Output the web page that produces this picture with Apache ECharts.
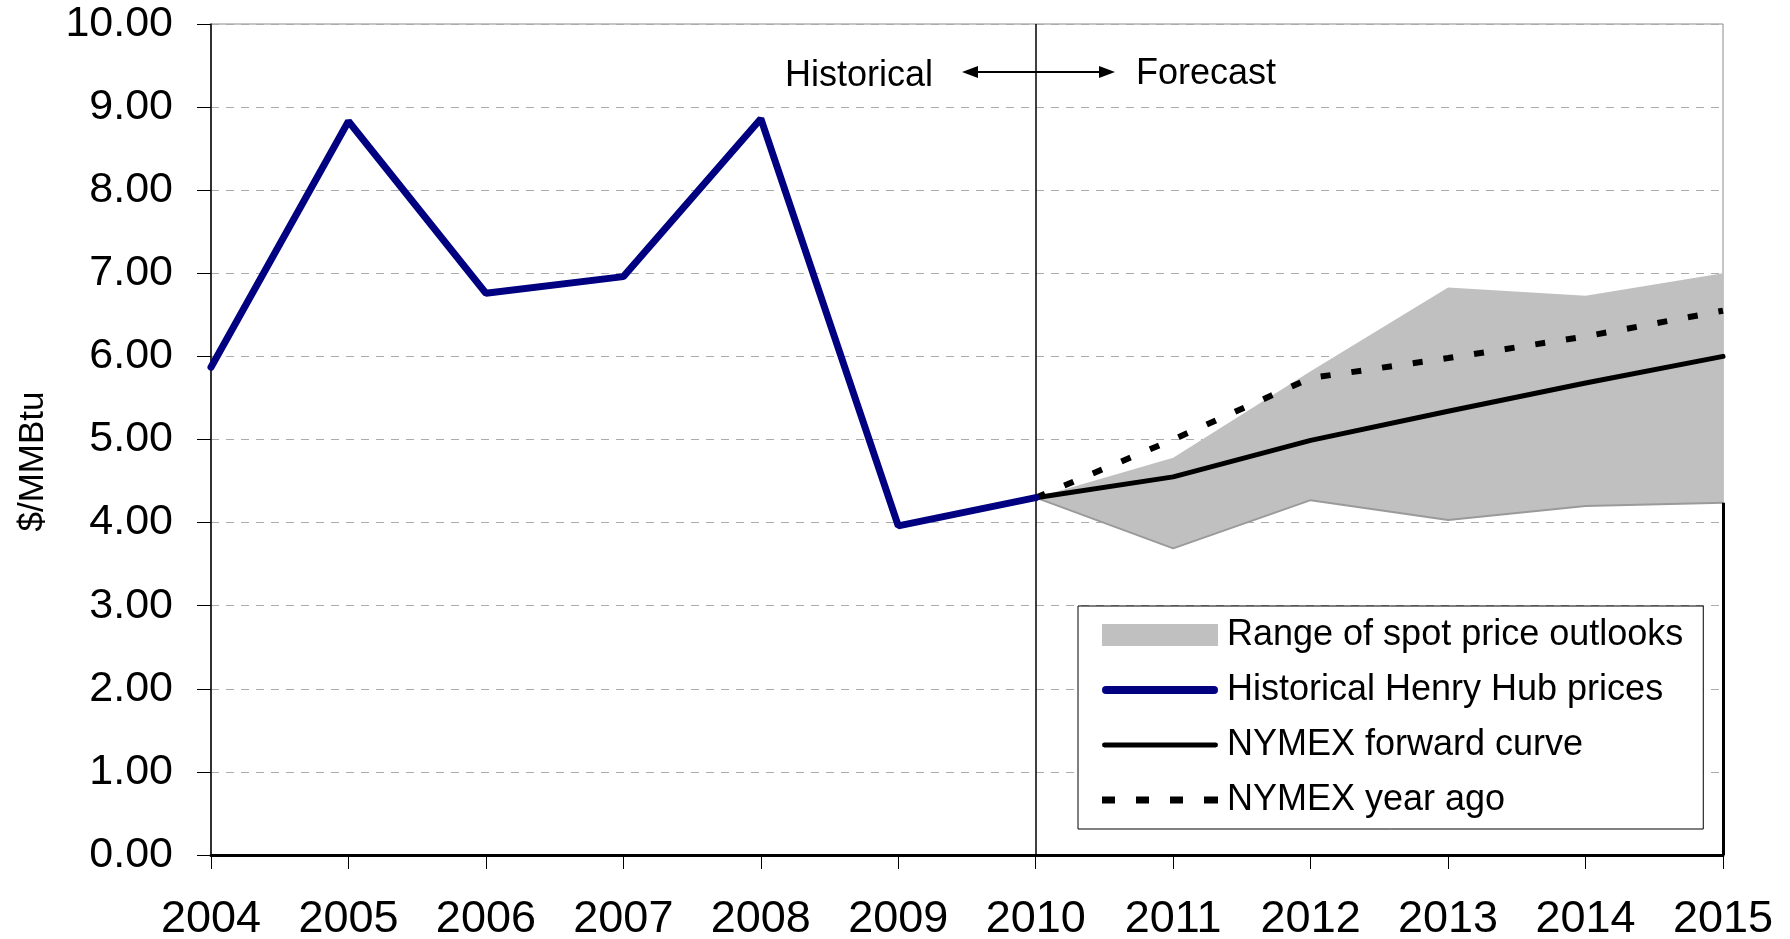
<!DOCTYPE html>
<html>
<head>
<meta charset="utf-8">
<title>Henry Hub prices</title>
<script src="https://cdn.jsdelivr.net/npm/echarts@6.0.0/dist/echarts.min.js"></script>
<style>
    body{margin:0;background:#fff;}
    #chart{width:1790px;height:939px;}
</style>
</head>
<body>
<div id="chart"></div>
<script>
/*数据*/
var years=["2004","2005","2006","2007","2008","2009","2010","2011","2012","2013","2014","2015"];
var historical=[5.87,8.83,6.76,6.96,8.86,3.96,4.30,null,null,null,null,null];
var forwardCurve=[null,null,null,null,null,null,4.30,4.55,4.99,5.34,5.68,6.00];
var yearAgo=[null,null,null,null,null,null,4.30,5.00,5.74,5.98,6.24,6.55];
var rangeLow=[null,null,null,null,null,null,4.30,3.69,4.27,4.03,4.20,4.24];
var rangeHigh=[null,null,null,null,null,null,4.30,4.78,5.82,6.83,6.73,7.00];
var yTicks=[0,1,2,3,4,5,6,7,8,9,10];

var FONT="'Liberation Sans', Arial, sans-serif";

/*区间宽度 = 上限 - 下限, 叠在下限上*/
var rangeBand=[];
for(var i=0;i<years.length;i++){
    rangeBand.push(rangeHigh[i]==null?null:+(rangeHigh[i]-rangeLow[i]).toFixed(2));
}

/*图例图标: 粗线 / 细线 / 虚线*/
var ICON_THICK="path://M4,0H112A4,4 0 0 1 112,8H4A4,4 0 0 1 4,0Z";
var ICON_THIN="path://M2,0H114A2.5,2.5 0 0 1 114,5H2A2.5,2.5 0 0 1 2,0Z";
var ICON_DASH="path://M0,0h13v7h-13zM34,0h13v7h-13zM68,0h13v7h-13zM102,0h14v7h-14z";

var chart=echarts.init(document.getElementById("chart"));

var option={
    animation:false,
    textStyle:{fontFamily:FONT,color:"#000"},
    grid:{
        left:211,right:67,top:24,bottom:84,
        outerBoundsMode:"none",
        containLabel:false,
        show:true,borderColor:"#8c8c8c",borderWidth:1
    },
    legend:{
        orient:"vertical",
        left:1078,top:606,
        padding:[11,20,11,24],
        itemWidth:116,itemHeight:22,
        itemGap:19,
        symbolKeepAspect:true,
        backgroundColor:"#fff",
        borderColor:"#000",borderWidth:1,
        borderRadius:0,
        textStyle:{fontSize:36,fontFamily:FONT,color:"#000",padding:[0,0,0,4]},
        data:[
            {name:"Range of spot price outlooks",icon:"rect",itemStyle:{color:"#c0c0c0",borderWidth:0}},
            {name:"Historical Henry Hub prices",icon:ICON_THICK,itemStyle:{color:"#000080",borderWidth:0}},
            {name:"NYMEX forward curve",icon:ICON_THIN,itemStyle:{color:"#000",borderWidth:0}},
            {name:"NYMEX year ago",icon:ICON_DASH,itemStyle:{color:"#000",borderWidth:0}}
        ],
        z:20
    },
    xAxis:{
        type:"category",
        data:years,
        boundaryGap:false,
        axisLine:{lineStyle:{color:"#000",width:3}},
        axisTick:{show:true,length:14,inside:false,lineStyle:{color:"#000",width:1}},
        axisLabel:{fontSize:45,fontFamily:FONT,color:"#000",margin:42},
        splitLine:{show:false}
    },
    yAxis:{
        type:"value",
        min:yTicks[0],max:yTicks[yTicks.length-1],interval:1,
        name:"$/MMBtu",
        nameLocation:"middle",
        nameGap:160,
        nameTextStyle:{fontSize:35,fontFamily:FONT,color:"#000",padding:[0,44,0,0]},
        axisLine:{show:true,lineStyle:{color:"#000",width:1.5}},
        axisTick:{show:true,length:14,lineStyle:{color:"#000",width:1}},
        axisLabel:{
            fontSize:43,fontFamily:FONT,color:"#000",margin:38,
            formatter:function(v){return v.toFixed(2);}
        },
        splitLine:{show:true,lineStyle:{color:"#ababab",type:[8,7],width:1}}
    },
    series:[
        {
            name:"rangeLow",
            type:"line",
            data:rangeLow,
            stack:"range",
            symbol:"none",
            lineStyle:{color:"#9a9a9a",width:2},
            z:1,
            markLine:{
                silent:true,
                symbol:"none",
                label:{show:false},
                data:[
                    [{xAxis:years[6],yAxis:yTicks[0]},{xAxis:years[6],yAxis:yTicks[yTicks.length-1]}],
                    [{coord:[years[11],yTicks[0]],lineStyle:{width:3}},{coord:[years[11],rangeLow[11]]}]
                ],
                lineStyle:{color:"#000",width:1.5,type:"solid"}
            }
        },
        {
            name:"Range of spot price outlooks",
            type:"line",
            data:rangeBand,
            stack:"range",
            symbol:"none",
            lineStyle:{width:0,color:"#c0c0c0"},
            itemStyle:{color:"#c0c0c0"},
            areaStyle:{color:"#c0c0c0",opacity:1},
            z:0
        },
        {
            name:"Historical Henry Hub prices",
            type:"line",
            data:historical,
            symbol:"none",
            itemStyle:{color:"#000080"},
            lineStyle:{color:"#000080",width:7,cap:"round"},
            z:5
        },
        {
            name:"NYMEX forward curve",
            type:"line",
            data:forwardCurve,
            symbol:"none",
            itemStyle:{color:"#000"},
            lineStyle:{color:"#000",width:5,cap:"round"},
            z:4
        },
        {
            name:"NYMEX year ago",
            type:"line",
            data:yearAgo,
            symbol:"none",
            itemStyle:{color:"#000"},
            lineStyle:{color:"#000",width:6,type:[10,21]},
            z:3
        }
    ],
    /*Historical <-> Forecast 标注*/
    graphic:[
        {type:"text",x:933,y:76,style:{text:"Historical",font:"36px "+FONT,fill:"#000",align:"right",verticalAlign:"middle"}},
        {type:"text",x:1136,y:74,style:{text:"Forecast",font:"36px "+FONT,fill:"#000",align:"left",verticalAlign:"middle"}},
        {type:"line",shape:{x1:972,y1:72,x2:1105,y2:72},style:{stroke:"#000",lineWidth:2}},
        {type:"polygon",shape:{points:[[962,72],[978,66],[978,78]]},style:{fill:"#000"}},
        {type:"polygon",shape:{points:[[1115,72],[1099,66],[1099,78]]},style:{fill:"#000"}}
    ]
};
chart.setOption(option);
</script>
</body>
</html>
